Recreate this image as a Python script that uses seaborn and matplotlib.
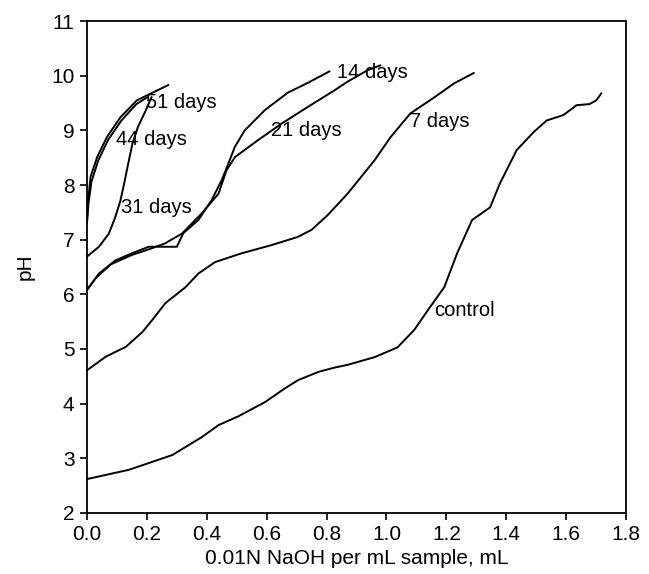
import numpy as np
import pandas as pd
import matplotlib
matplotlib.use("Agg")
import matplotlib.pyplot as plt
import seaborn as sns

# --- data (x: 0.01N NaOH per mL sample, y: pH) ---
control_x = [0, 0.14, 0.285, 0.384, 0.44, 0.506, 0.595, 0.661, 0.705, 0.772, 0.827, 0.87, 0.96,
             1.037, 1.093, 1.146, 1.193, 1.236, 1.286, 1.346, 1.379, 1.435, 1.492, 1.535, 1.591,
             1.635, 1.678, 1.701, 1.718]
control_y = [2.62, 2.79, 3.06, 3.39, 3.61, 3.77, 4.03, 4.28, 4.43, 4.58, 4.66, 4.71, 4.85,
             5.03, 5.35, 5.77, 6.13, 6.75, 7.36, 7.59, 8.03, 8.64, 8.97, 9.18, 9.28,
             9.46, 9.48, 9.55, 9.68]

d7_x = [0, 0.063, 0.13, 0.185, 0.218, 0.262, 0.329, 0.372, 0.428, 0.516, 0.616, 0.704, 0.75,
        0.804, 0.87, 0.96, 1.013, 1.08, 1.159, 1.226, 1.292]
d7_y = [4.61, 4.86, 5.04, 5.31, 5.53, 5.84, 6.13, 6.38, 6.59, 6.75, 6.9, 7.05, 7.18,
        7.45, 7.84, 8.45, 8.87, 9.31, 9.6, 9.86, 10.05]

d14_x = [0, 0.03, 0.08, 0.15, 0.21, 0.26, 0.317, 0.383, 0.439, 0.466, 0.494, 0.571, 0.649,
         0.738, 0.826, 0.87, 0.937, 0.98]
d14_y = [6.08, 6.3, 6.55, 6.72, 6.83, 6.93, 7.11, 7.48, 7.84, 8.27, 8.51, 8.82, 9.12,
         9.43, 9.73, 9.89, 10.1, 10.19]

d21_x = [0, 0.04, 0.095, 0.15, 0.206, 0.3, 0.322, 0.372, 0.416, 0.45, 0.472, 0.494, 0.527,
         0.594, 0.671, 0.738, 0.81]
d21_y = [6.08, 6.38, 6.62, 6.75, 6.87, 6.87, 7.12, 7.36, 7.72, 8.09, 8.39, 8.70, 9.0,
         9.37, 9.69, 9.87, 10.08]

d31_x = [0, 0.04, 0.073, 0.095, 0.112, 0.125, 0.14, 0.152, 0.17, 0.195, 0.216]
d31_y = [6.69, 6.87, 7.11, 7.42, 7.72, 8.05, 8.45, 8.76, 9.06, 9.35, 9.61]

d44_x = [0, 0.005, 0.015, 0.037, 0.07, 0.115, 0.165, 0.2]
d44_y = [7.3, 7.66, 8.06, 8.44, 8.82, 9.18, 9.48, 9.6]

d51_x = [0, 0.004, 0.012, 0.034, 0.067, 0.112, 0.167, 0.212, 0.272]
d51_y = [7.36, 7.72, 8.15, 8.51, 8.88, 9.24, 9.55, 9.67, 9.83]

series_names = ["control", "7 days", "14 days", "21 days", "31 days", "44 days", "51 days"]
series_x = [control_x, d7_x, d14_x, d21_x, d31_x, d44_x, d51_x]
series_y = [control_y, d7_y, d14_y, d21_y, d31_y, d44_y, d51_y]

label_text = ["control", "7 days", "14 days", "21 days", "31 days", "44 days", "51 days"]
label_x = [1.16, 1.08, 0.834, 0.615, 0.113, 0.096, 0.196]
label_y = [5.71, 9.17, 10.06, 9.0, 7.59, 8.84, 9.51]

x_ticks = [0.0, 0.2, 0.4, 0.6, 0.8, 1.0, 1.2, 1.4, 1.6, 1.8]
y_ticks = [2, 3, 4, 5, 6, 7, 8, 9, 10, 11]

# --- build long table ---
frames = []
for name, xs, ys in zip(series_names, series_x, series_y):
    frames.append(pd.DataFrame({"x": xs, "pH": ys, "sample": name}))
df = pd.concat(frames, ignore_index=True)

sns.set_theme(style="ticks")
plt.rcParams["font.family"] = ["Liberation Sans", "DejaVu Sans"]
plt.rcParams["text.color"] = "black"
plt.rcParams["axes.labelcolor"] = "black"

fig = plt.figure(figsize=(6.49, 5.74), dpi=100)
ax = fig.add_axes([0.134, 0.1063, 0.8306, 0.8571])

sns.lineplot(data=df, x="x", y="pH", hue="sample", units="sample", estimator=None,
             sort=False, palette=["black"] * len(series_names), linewidth=1.4,
             legend=False, ax=ax)

for t, lx, ly in zip(label_text, label_x, label_y):
    ax.text(lx, ly, t, ha="left", va="center", fontsize=14.5, color="black")

ax.set_xlim(0, 1.8)
ax.set_ylim(2, 11)
ax.set_xticks(x_ticks)
ax.set_xticklabels([f"{v:.1f}" for v in x_ticks])
ax.set_yticks(y_ticks)
ax.set_yticklabels([str(v) for v in y_ticks])
ax.tick_params(axis="both", labelsize=15, length=5, width=1.2, colors="black", pad=4,
               direction="out")
ax.set_xlabel("0.01N NaOH per mL sample, mL", fontsize=15, labelpad=3, color="black")
ax.set_ylabel("pH", fontsize=15, labelpad=12, color="black")
for s in ax.spines.values():
    s.set_visible(True)
    s.set_color("black")
    s.set_linewidth(1.3)

fig.savefig("out.png", dpi=100)
